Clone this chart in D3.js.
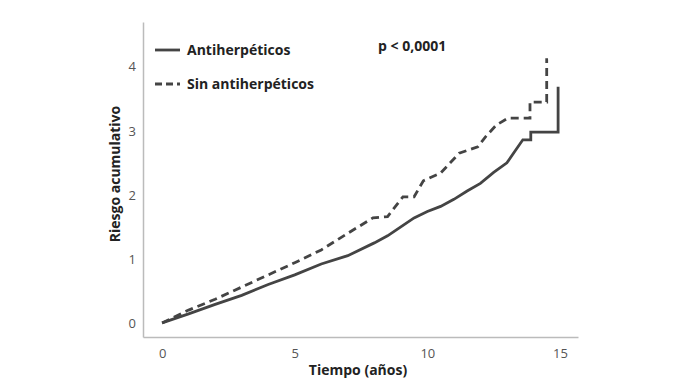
<!DOCTYPE html>
<html>
<head>
<meta charset="utf-8">
<script src="https://cdn.jsdelivr.net/npm/d3@7"></script>
<style>
  body { margin: 0; background: #fff; }
  svg { font-family: "Open Sans", sans-serif; }
</style>
</head>
<body>
<div id="viz"></div>
<script>
// Antiherpéticos (solid) - repeated times are vertical jumps
var conT = [0, 1, 2, 3, 4, 5, 6, 7, 8, 8.5, 9, 9.5, 10, 10.5, 11, 11.5, 12, 12.5, 13, 13.3, 13.6, 13.9, 13.9, 14.93, 14.93];
var conV = [0, 0.14, 0.29, 0.43, 0.6, 0.75, 0.92, 1.05, 1.25, 1.36, 1.5, 1.64, 1.74, 1.82, 1.93, 2.06, 2.18, 2.35, 2.5, 2.68, 2.86, 2.86, 2.98, 2.98, 3.69];
// Sin antiherpéticos (dashed)
var sinT = [0, 1, 2, 3, 4, 5, 6, 7, 7.95, 8.5, 9.08, 9.5, 9.85, 10.5, 11.2, 11.9, 12.2, 12.6, 13.05, 13.87, 13.87, 14.5, 14.5, 14.55];
var sinV = [0, 0.2, 0.37, 0.56, 0.75, 0.94, 1.14, 1.4, 1.64, 1.66, 1.97, 1.97, 2.22, 2.34, 2.65, 2.75, 2.91, 3.09, 3.2, 3.2, 3.45, 3.45, 4.11, 4.11];

var xTicks = [0, 5, 10, 15];
var yTicks = [0, 1, 2, 3, 4];
var seriesNames = ['Antiherpéticos', 'Sin antiherpéticos'];

var width = 689, height = 388, ink = '#444';

var x = d3.scaleLinear().domain([-0.72, 15.68]).range([143, 578]);
var y = d3.scaleLinear().domain([-0.22, 4.7]).range([337, 22]);

var svg = d3.select('#viz').append('svg')
    .attr('width', width)
    .attr('height', height);

var xAxis = svg.append('g')
    .attr('transform', 'translate(0,337)')
    .call(d3.axisBottom(x).tickValues(xTicks).tickFormat(d3.format('d'))
        .tickSize(0).tickPadding(12).tickSizeOuter(0));
var yAxis = svg.append('g')
    .attr('transform', 'translate(143,0)')
    .call(d3.axisLeft(y).tickValues(yTicks).tickFormat(d3.format('d'))
        .tickSize(0).tickPadding(7).tickSizeOuter(0));

[xAxis, yAxis].forEach(function(a){
    a.select('.domain').attr('stroke', '#bbb').attr('stroke-width', 1.5);
    a.selectAll('text').attr('fill', '#555').style('font-size', '13px')
        .style('font-family', '"Open Sans", sans-serif');
});

svg.append('text')
    .attr('x', 358).attr('y', 375)
    .attr('text-anchor', 'middle')
    .style('font-size', '14px').style('font-weight', 'bold').attr('fill', '#222')
    .text('Tiempo (años)');

svg.append('text')
    .attr('transform', 'translate(120,174) rotate(-90)')
    .attr('text-anchor', 'middle')
    .style('font-size', '14px').style('font-weight', 'bold').attr('fill', '#222')
    .text('Riesgo acumulativo');

var line = d3.line()
    .x(function(d){ return x(d[0]); })
    .y(function(d){ return y(d[1]); });

var series = [
    { name: seriesNames[0], pts: d3.zip(conT, conV), dash: null },
    { name: seriesNames[1], pts: d3.zip(sinT, sinV), dash: '8,5' }
];

svg.selectAll('path.curve').data(series)
    .enter().append('path')
    .attr('class', 'curve')
    .attr('d', function(d){ return line(d.pts); })
    .attr('fill', 'none')
    .attr('stroke', ink)
    .attr('stroke-width', 2.8)
    .attr('stroke-linejoin', 'miter')
    .attr('stroke-dasharray', function(d){ return d.dash; });

// legend
var leg = svg.selectAll('g.leg').data(series)
    .enter().append('g')
    .attr('class', 'leg')
    .attr('transform', function(d, i){ return 'translate(155,' + (50 + i * 34) + ')'; });
leg.append('line')
    .attr('x1', 0).attr('x2', 25)
    .attr('stroke', ink).attr('stroke-width', 2.8)
    .attr('stroke-dasharray', function(d){ return d.dash ? '7,4' : null; });
leg.append('text')
    .attr('x', 32).attr('y', 5)
    .style('font-size', '14px').style('font-weight', 'bold').attr('fill', '#222')
    .text(function(d){ return d.name; });

svg.append('text')
    .attr('x', 378).attr('y', 51)
    .style('font-size', '14px').style('font-weight', 'bold').attr('fill', '#222')
    .text('p < 0,0001');
</script>
</body>
</html>
